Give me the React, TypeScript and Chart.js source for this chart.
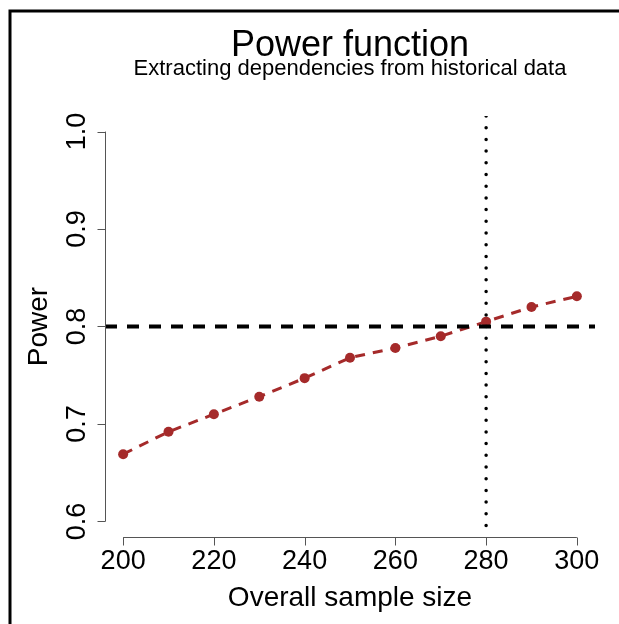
import React, { useEffect, useRef } from "react";
import { Chart, registerables } from "chart.js";

Chart.register(...registerables);

// ---- data ----
const sampleSizes = [200, 210, 220, 230, 240, 250, 260, 270, 280, 290, 300];
const powerValues = [0.669, 0.692, 0.71, 0.728, 0.747, 0.768, 0.778, 0.79, 0.805, 0.82, 0.831];
const xTickValues = [200, 220, 240, 260, 280, 300];
const yTickValues = [0.6, 0.7, 0.8, 0.9, 1.0];
const yTickLabels = ["0.6", "0.7", "0.8", "0.9", "1.0"];
const targetPower = 0.8;
const chosenSampleSize = 280;
const titleText = "Power function";
const subtitleText = "Extracting dependencies from historical data";
const xAxisTitle = "Overall sample size";
const yAxisTitle = "Power";

// R-style 4% range extension
const xLo = 200, xHi = 300, yLo = 0.6, yHi = 1.0;
const xMin = xLo - (xHi - xLo) * 0.04;
const xMax = xHi + (xHi - xLo) * 0.04;
const yMin = yLo - (yHi - yLo) * 0.04;
const yMax = yHi + (yHi - yLo) * 0.04;

const FONT = '"Liberation Sans", Arial, Helvetica, sans-serif';
const RED = "#a52a2a";

const decorPlugin = {
  id: "decor",
  afterDraw(chart: any) {
    const ctx = chart.ctx as CanvasRenderingContext2D;
    const xs = chart.scales.x;
    const ys = chart.scales.y;
    const area = chart.chartArea;
    ctx.save();
    // figure border (top and left visible)
    ctx.strokeStyle = "#000";
    ctx.lineWidth = 3;
    ctx.beginPath();
    ctx.moveTo(10, 630);
    ctx.lineTo(10, 11);
    ctx.lineTo(625, 11);
    ctx.stroke();

    const cx = (area.left + area.right) / 2;
    ctx.fillStyle = "#000";
    ctx.textAlign = "center";
    ctx.textBaseline = "alphabetic";
    ctx.font = `36px ${FONT}`;
    ctx.fillText(titleText, cx, 56);
    ctx.font = `22px ${FONT}`;
    ctx.fillText(subtitleText, cx, 75);

    // axes
    ctx.strokeStyle = "#555";
    ctx.lineWidth = 1;
    const axY = Math.round(area.bottom) + 0.5;
    const axX = Math.round(area.left) + 0.5;
    ctx.beginPath();
    ctx.moveTo(xs.getPixelForValue(xTickValues[0]), axY);
    ctx.lineTo(xs.getPixelForValue(xTickValues[xTickValues.length - 1]), axY);
    xTickValues.forEach((v) => {
      const px = Math.round(xs.getPixelForValue(v)) + 0.5;
      ctx.moveTo(px, axY);
      ctx.lineTo(px, axY + 8);
    });
    ctx.moveTo(axX, ys.getPixelForValue(yTickValues[0]));
    ctx.lineTo(axX, ys.getPixelForValue(yTickValues[yTickValues.length - 1]));
    yTickValues.forEach((v) => {
      const py = Math.round(ys.getPixelForValue(v)) + 0.5;
      ctx.moveTo(axX, py);
      ctx.lineTo(axX - 8, py);
    });
    ctx.stroke();

    ctx.fillStyle = "#000";
    ctx.font = `27px ${FONT}`;
    ctx.textAlign = "center";
    xTickValues.forEach((v) => {
      ctx.fillText(String(v), xs.getPixelForValue(v), 569);
    });
    yTickValues.forEach((v, i) => {
      ctx.save();
      ctx.translate(85, ys.getPixelForValue(v));
      ctx.rotate(-Math.PI / 2);
      ctx.fillText(yTickLabels[i], 0, 0);
      ctx.restore();
    });
    ctx.font = `28px ${FONT}`;
    ctx.fillText(xAxisTitle, cx, 606);
    ctx.save();
    ctx.translate(47, (area.top + area.bottom) / 2);
    ctx.rotate(-Math.PI / 2);
    ctx.fillText(yAxisTitle, 0, 0);
    ctx.restore();
    ctx.restore();
  },
};

export default function App() {
  const ref = useRef<HTMLCanvasElement>(null);
  useEffect(() => {
    if (!ref.current) return;
    const chart = new Chart(ref.current, {
      type: "line",
      data: {
        datasets: [
          {
            label: "target",
            data: [
              { x: xMin, y: targetPower },
              { x: xMax, y: targetPower },
            ],
            borderColor: "#000",
            borderWidth: 4,
            borderDash: [12, 10],
            pointRadius: 0,
            order: 0,
          },
          {
            label: "chosen",
            data: [
              { x: chosenSampleSize, y: yMax },
              { x: chosenSampleSize, y: yMin },
            ],
            borderColor: "#000",
            borderWidth: 3.5,
            borderDash: [0, 11.7],
            borderCapStyle: "round",
            pointRadius: 0,
            order: 0,
          },
          {
            label: "power",
            data: sampleSizes.map((n, i) => ({ x: n, y: powerValues[i] })),
            borderColor: RED,
            borderWidth: 3,
            borderDash: [10, 8],
            pointRadius: 5,
            pointBackgroundColor: RED,
            pointBorderColor: RED,
            pointBorderWidth: 0,
            order: 1,
          },
        ],
      },
      options: {
        responsive: false,
        animation: false,
        devicePixelRatio: 1,
        layout: { padding: { left: 105, right: 24, top: 116, bottom: 87 } },
        elements: { line: { tension: 0 } },
        scales: {
          x: { type: "linear", min: xMin, max: xMax, display: false },
          y: { type: "linear", min: yMin, max: yMax, display: false },
        },
        plugins: { legend: { display: false }, tooltip: { enabled: false } },
      },
      plugins: [decorPlugin],
    });
    return () => chart.destroy();
  }, []);
  return (
    <div style={{ position: "absolute", left: 0, top: 0, width: 619, height: 624, background: "#fff" }}>
      <canvas ref={ref} width={619} height={624} style={{ display: "block" }} />
    </div>
  );
}
